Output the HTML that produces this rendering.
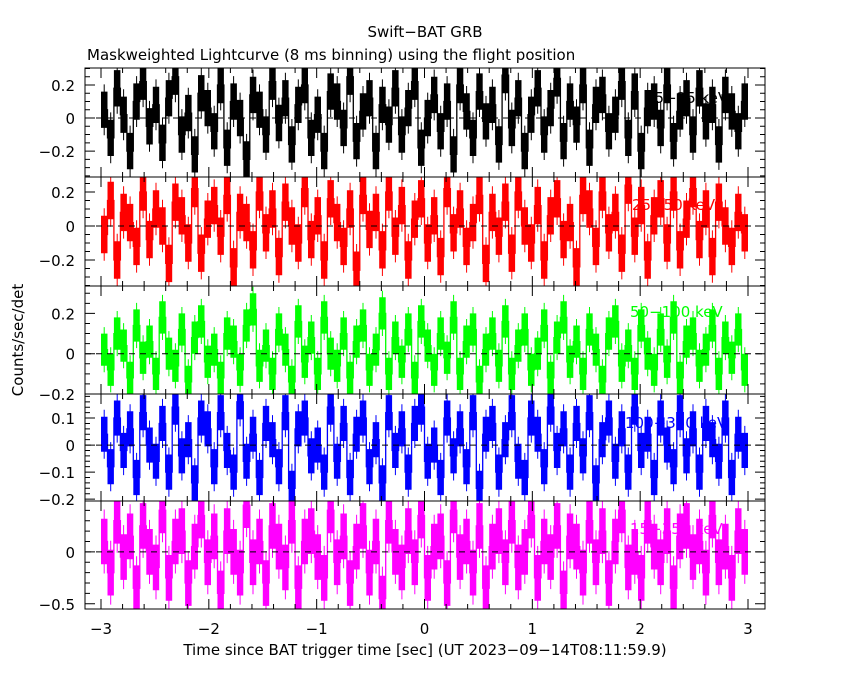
<!DOCTYPE html>
<html><head><meta charset="utf-8"><style>
body{margin:0;background:#fff}
svg{display:block;font-family:"DejaVu Sans","Liberation Sans",sans-serif}
</style></head><body>
<svg id="c" width="850" height="680">
<text x="425" y="37" font-size="15" text-anchor="middle">Swift−BAT GRB</text>
<text x="87" y="60" font-size="15">Maskweighted Lightcurve (8 ms binning) using the flight position</text>
<text x="425" y="655" font-size="15" text-anchor="middle">Time since BAT trigger time [sec] (UT 2023−09−14T08:11:59.9)</text>
<text transform="translate(23,340) rotate(-90)" font-size="15" text-anchor="middle">Counts/sec/det</text>
</svg>
<script>
const xTicks=[-3,-2,-1,0,1,2,3];
const bandLabels=["15−25 keV","25−50 keV","50−100 keV","100−350 keV","15−350 keV"];
const s1=[0.05,-0.12,0.18,0.02,-0.2,0.1,0.22,-0.05,0.08,-0.15,0.12,0.25,-0.1,0.03,-0.22,0.15,0.06,-0.08,0.2,-0.18,0.1,0.0,-0.25,0.14,0.05,-0.1,0.22,-0.03,0.12,-0.16,0.08,0.2,-0.12,0.02,-0.2,0.16,0.1,-0.06,0.25,-0.14,0.04,0.12,-0.2,0.08,-0.04,0.18,-0.1,0.06,0.22,-0.18,0.0,0.14,-0.08,0.1,-0.22,0.2,0.04,-0.12,0.16,-0.02,0.08,-0.16,0.26,-0.06,0.12,-0.2,0.02,0.18,-0.1,0.06,0.24,-0.14,0.1,-0.04,0.2,-0.18,0.08,0.14,-0.08,0.02,0.22,-0.12,0.16,-0.2,0.06,0.1,-0.06,0.2,-0.14,0.04,0.12,-0.1,0.18,-0.02,0.08,-0.16,0.14,0.04,-0.08,0.1];
const s2=[-0.05,0.15,-0.2,0.08,0.02,-0.12,0.2,-0.08,0.1,0.0,-0.22,0.14,0.06,-0.1,0.22,-0.16,0.04,0.12,-0.06,0.18,-0.24,0.08,0.02,-0.14,0.2,-0.04,0.1,-0.18,0.14,0.0,-0.1,0.22,-0.08,0.06,-0.2,0.16,0.02,-0.12,0.1,-0.26,0.18,-0.02,0.08,-0.14,0.2,-0.06,0.12,-0.2,0.04,0.16,-0.1,0.06,-0.18,0.22,-0.04,0.1,-0.12,0.02,0.18,-0.22,0.08,-0.06,0.14,-0.16,0.2,0.0,-0.1,0.12,-0.2,0.06,0.16,-0.08,0.02,-0.24,0.18,0.1,-0.12,0.2,-0.04,0.08,-0.16,0.24,-0.06,0.12,-0.2,0.06,0.16,-0.1,0.2,-0.14,0.04,0.22,-0.08,0.1,-0.18,0.14,0.0,-0.12,0.08,-0.04];
const s3=[0.02,-0.08,0.1,0.04,-0.12,0.14,-0.02,0.06,-0.1,0.18,0.0,-0.06,0.12,-0.14,0.08,0.16,-0.04,0.02,-0.12,0.1,0.06,-0.08,0.14,0.22,-0.06,0.04,-0.1,0.12,0.02,-0.14,0.16,-0.04,0.08,-0.1,0.18,0.0,-0.06,0.1,-0.12,0.06,0.14,-0.08,0.02,0.2,-0.1,0.08,-0.04,0.12,-0.12,0.16,0.04,-0.08,0.1,-0.02,0.18,-0.1,0.06,0.12,-0.14,0.02,0.1,-0.06,0.16,-0.1,0.04,0.12,-0.08,0.0,0.14,-0.12,0.08,0.18,-0.04,0.06,-0.1,0.12,0.02,-0.14,0.1,0.16,-0.06,0.04,-0.1,0.14,0.0,-0.08,0.12,-0.04,0.18,-0.12,0.06,0.1,-0.06,0.02,0.14,-0.1,0.08,-0.02,0.12,-0.08];
const s4=[0.04,-0.08,0.1,-0.02,0.06,-0.12,0.12,0.0,-0.06,0.08,-0.1,0.14,-0.04,0.02,-0.14,0.1,0.06,-0.08,0.12,-0.02,-0.1,0.16,-0.06,0.04,-0.12,0.08,0.02,-0.08,0.12,-0.16,0.06,0.1,-0.04,0.0,-0.1,0.14,-0.06,0.08,-0.12,0.04,0.1,-0.08,0.02,-0.14,0.12,-0.02,0.06,-0.1,0.08,0.14,-0.06,0.0,-0.12,0.1,-0.04,0.06,-0.08,0.12,-0.16,0.04,0.08,-0.1,0.02,0.12,-0.06,-0.12,0.1,0.04,-0.08,0.14,-0.02,0.06,-0.1,0.08,-0.04,0.12,-0.14,0.02,0.1,-0.06,0.06,-0.1,0.14,-0.02,0.04,-0.12,0.1,0.0,-0.08,0.12,-0.04,0.06,-0.1,0.08,0.02,-0.06,0.1,-0.12,0.04,-0.02];
const s5=[0.1,-0.2,0.3,-0.05,0.15,-0.35,0.25,0.0,-0.15,0.4,-0.25,0.1,0.2,-0.3,0.05,0.35,-0.1,0.15,-0.4,0.2,0.0,-0.2,0.45,-0.1,0.1,-0.3,0.25,0.05,-0.15,0.3,-0.35,0.1,0.2,-0.05,-0.25,0.4,-0.1,0.15,-0.3,0.05,0.25,-0.2,0.1,-0.45,0.3,0.0,-0.15,0.2,-0.1,0.35,-0.25,0.05,0.15,-0.3,0.4,-0.05,0.1,-0.2,0.25,-0.35,0.05,0.2,-0.1,0.3,-0.15,0.0,0.35,-0.25,0.1,-0.05,0.25,-0.4,0.15,0.05,-0.2,0.3,-0.1,0.2,-0.3,0.1,0.4,-0.15,0.0,-0.25,0.3,0.05,-0.1,0.2,-0.35,0.15,0.25,-0.05,0.1,-0.2,0.35,-0.1,0.05,-0.25,0.2,0.0];
const series=[s1,s2,s3,s4,s5];
const errors=[0.11,0.11,0.08,0.065,0.22];
const colors=["#000","#f00","#0f0","#00f","#f0f"];
const yMin=[-0.357,-0.353,-0.2,-0.207,-0.55];
const yMax=[0.303,0.288,0.336,0.189,0.49];
const yMajor=[[-0.2,0,0.2],[-0.2,0,0.2],[-0.2,0,0.2],[-0.2,-0.1,0,0.1],[-0.5,0]];
const yMinorStep=[0.05,0.05,0.05,0.02,0.1];
const tops=[68,177,286,394,501], bots=[177,286,394,501,609];
const L=85,R=765;
const NS="http://www.w3.org/2000/svg";
const svg=document.getElementById('c');
function mk(t,a,par){const e=document.createElementNS(NS,t);for(const k in a)e.setAttribute(k,a[k]);(par||svg).appendChild(e);return e;}
const defs=mk('defs',{});
const xs=t=>101+(t+3)*(647/6);
for(let p=0;p<5;p++){
  const T=tops[p],B=bots[p];
  const cp=mk('clipPath',{id:'cp'+p},defs);
  mk('rect',{x:L,y:T,width:R-L,height:B-T},cp);
  const grp=mk('g',{'clip-path':'url(#cp'+p+')'});
  
  
  const ys=v=>B-(v-yMin[p])/(yMax[p]-yMin[p])*(B-T);
  const d=series[p], n=d.length, dt=6/n, e=errors[p];
  let band="",path="",eb="";
  d.forEach((v,i)=>{const x0=xs(-3+i*dt),x1=xs(-3+(i+1)*dt),y=ys(v);
    band+="M"+x0.toFixed(1)+" "+ys(v+e).toFixed(1)+"H"+x1.toFixed(1)+"V"+ys(v-e).toFixed(1)+"H"+x0.toFixed(1)+"Z";
    path+=(i?"L":"M")+x0.toFixed(1)+" "+y.toFixed(1)+"L"+x1.toFixed(1)+" "+y.toFixed(1);
    const xm=(x0+x1)/2;eb+="M"+xm.toFixed(1)+" "+ys(v+e*1.4).toFixed(1)+"V"+ys(v-e*1.4).toFixed(1);});
  const bd=mk('path',{d:band,fill:colors[p]},grp);
  
  
  const g=mk('path',{d:path,fill:'none',stroke:colors[p],'stroke-width':1.3},grp);
  
  
  const eg=mk('path',{d:eb,stroke:colors[p],'stroke-width':1},grp);
  
  
  const z=mk('line',{x1:L,x2:R,y1:ys(0),y2:ys(0),stroke:'#000','stroke-dasharray':'6,5'});
  
  
  const fr=mk('rect',{x:L,y:T,width:R-L,height:B-T,fill:'none',stroke:'#000','stroke-width':1});
  
  
  let tk="";
  for(let t=-3;t<=3.001;t+=0.2){const x=xs(t),maj=Math.abs(t-Math.round(t))<0.01,l=maj?10:5;tk+="M"+x+" "+B+"v"+(-l)+"M"+x+" "+T+"v"+l;}
  const lo=Math.ceil(yMin[p]/yMinorStep[p]);
  for(let k=lo;k*yMinorStep[p]<=yMax[p];k++){const v=k*yMinorStep[p],y=ys(v);const maj=yMajor[p].some(m=>Math.abs(m-v)<1e-6);const l=maj?10:5;tk+="M"+L+" "+y+"h"+l+"M"+R+" "+y+"h"+(-l);}
  const tp=mk('path',{d:tk,stroke:'#000','stroke-width':1,fill:'none'});
  
  
  yMajor[p].forEach(v=>{const t=mk('text',{x:75,y:ys(v)+6,'font-size':15,'text-anchor':'end'});t.textContent=v===0?"0":String(v).replace('-','−');
    
    });
  const lb=mk('text',{x:[645,632,630,625,630][p],y:T+[35,33,31,34,33][p],'font-size':15,fill:colors[p]});
  lb.textContent=bandLabels[p];
  
  
}
xTicks.forEach(t=>{const e=mk('text',{x:xs(t),y:634,'font-size':15,'text-anchor':'middle'});e.textContent=String(t).replace('-','−');
  
  });
</script>
</body></html>
